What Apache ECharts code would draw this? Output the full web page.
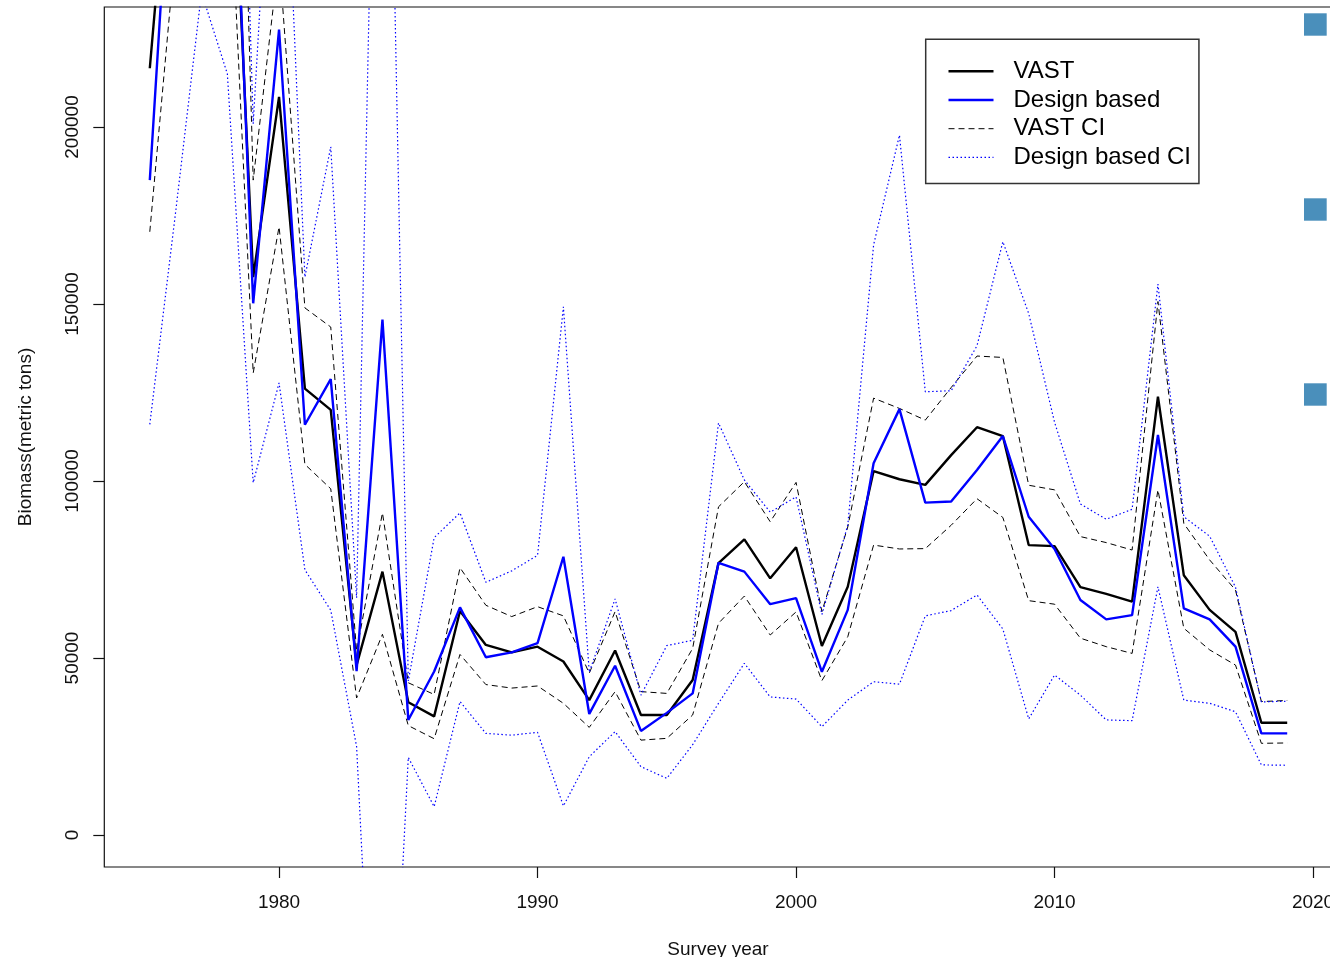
<!DOCTYPE html>
<html>
<head>
<meta charset="utf-8">
<script src="https://cdn.jsdelivr.net/npm/echarts@6/dist/echarts.min.js"></script>
<style>
  html, body { margin: 0; padding: 0; background: #ffffff; overflow: hidden; }
  #chart { width: 1330px; height: 957px; }
</style>
</head>
<body>
<div id="chart"></div>
<script>
// Survey years
const years = [1975, 1976, 1977, 1978, 1979, 1980, 1981, 1982, 1983, 1984,
               1985, 1986, 1987, 1988, 1989, 1990, 1991, 1992, 1993, 1994,
               1995, 1996, 1997, 1998, 1999, 2000, 2001, 2002, 2003, 2004,
               2005, 2006, 2007, 2008, 2009, 2010, 2011, 2012, 2013, 2014,
               2015, 2016, 2017, 2018, 2019];

// VAST model-based biomass index (metric tons)
const vast = [216600, 301000, 290000, 316000, 157600, 208500, 126100, 120100, 48000, 74400,
              37500, 33500, 63300, 53700, 51600, 53200, 49000, 38100, 52100, 33900,
              33900, 43800, 76800, 83500, 72500, 81300, 53400, 70100, 102800, 100500,
              98900, 107300, 115200, 112700, 81900, 81600, 70000, 68100, 65900, 123800,
              73400, 63600, 57400, 31700, 31700];

// Design-based biomass estimate (metric tons)
const design = [185000, 302000, 300000, 330000, 150200, 227500, 115900, 128800, 46300, 145600,
                32500, 46200, 64300, 50200, 51600, 54200, 78600, 34200, 47800, 29400,
                34500, 40000, 76900, 74400, 65200, 66900, 46100, 63600, 105000, 120300,
                93900, 94200, 103100, 112700, 89900, 80800, 66400, 60900, 62100, 113000,
                64000, 60900, 53200, 28700, 28700];

// VAST confidence interval bounds
const vastLower = [170400, 251000, 255000, 286000, 130500, 171800, 104700, 97800, 38700, 56700,
                   30900, 27200, 51000, 42500, 41500, 42100, 37200, 30400, 40500, 26800,
                   27300, 33900, 59800, 67500, 56500, 63000, 43600, 56000, 81900, 80800,
                   80900, 87500, 95000, 89700, 66200, 65200, 55600, 53200, 51300, 97500,
                   58400, 52300, 48000, 25900, 26000];
const vastUpper = [260000, 360000, 345000, 440000, 185000, 248000, 148900, 143500, 52000, 91000,
                   43000, 39700, 75500, 64900, 61700, 64500, 61900, 45700, 63100, 40500,
                   40000, 52700, 92700, 99800, 88500, 99600, 63100, 87000, 123400, 120500,
                   117200, 126400, 135300, 134900, 98800, 97500, 84300, 82600, 80500, 150700,
                   88000, 77700, 69200, 37700, 38000];

// Design-based confidence interval bounds
const designLower = [116000, 176000, 238000, 215000, 99500, 127700, 74900, 63500, 25000, -122000,
                     21900, 8000, 37700, 28700, 28200, 29000, 8200, 22100, 29200, 19300,
                     16000, 25500, 37200, 48500, 39000, 38400, 30600, 38100, 43300, 42600,
                     61900, 63400, 67800, 58200, 32800, 45200, 39500, 32500, 32300, 70100,
                     38100, 37200, 34800, 19800, 19700];
const designUpper = [254000, 428000, 362000, 444000, 200900, 327000, 157600, 194400, 67000, 413000,
                     43500, 84000, 91000, 71400, 74600, 79000, 149200, 46000, 66700, 39500,
                     53500, 55000, 116400, 100300, 91200, 95500, 62300, 87500, 166700, 197700,
                     125200, 125500, 138200, 167600, 147300, 116600, 93500, 89200, 92000, 155600,
                     89900, 84400, 70000, 37600, 37800];

// Axis tick positions
const xTicks = [1980, 1990, 2000, 2010, 2020];
const yTicks = [0, 50000, 100000, 150000, 200000];

const FONT = '"Liberation Sans", Arial, Helvetica, sans-serif';

function pairs(values) {
  return years.map((y, i) => [y, values[i]]);
}

const chart = echarts.init(document.getElementById('chart'), null, { renderer: 'canvas' });

const lineSeries = (name, values, color, dash, width) => ({
  name: name,
  type: 'line',
  data: pairs(values),
  symbol: 'none',
  showSymbol: false,
  lineStyle: { color: color, width: width, type: dash },
  itemStyle: { color: color },
  clip: true,
  silent: true
});

const option = {
  animation: false,
  backgroundColor: '#ffffff',
  grid: {
    left: 104.3,
    top: 7,
    width: 1228.4,
    height: 860,
    containLabel: false,
    outerBoundsMode: 'none',
    show: true,
    borderColor: '#111',
    borderWidth: 1.2,
    backgroundColor: 'transparent'
  },
  xAxis: {
    type: 'value',
    min: 1973.24,
    max: 2020.76,
    axisLine: { show: false, onZero: false },
    splitLine: { show: false },
    axisTick: { show: true, customValues: xTicks, length: 11, inside: false,
                lineStyle: { color: '#111', width: 1.2 } },
    axisLabel: { show: true, customValues: xTicks, margin: 26, hideOverlap: false,
                 formatter: v => String(v),
                 fontFamily: FONT, fontSize: 19, color: '#111' }
  },
  yAxis: {
    type: 'value',
    min: -9040,
    max: 233900,
    axisLine: { show: false, onZero: false },
    splitLine: { show: false },
    axisTick: { show: true, customValues: yTicks, length: 11, inside: false,
                lineStyle: { color: '#111', width: 1.2 } },
    axisLabel: { show: true, customValues: yTicks, margin: 22, rotate: 90,
                 formatter: v => String(v),
                 fontFamily: FONT, fontSize: 19, color: '#111' }
  },
  legend: {
    show: true,
    orient: 'vertical',
    left: 925.7,
    top: 39.3,
    padding: [20, 8, 14, 21.6],
    itemWidth: 45,
    itemHeight: 14,
    itemGap: 4.7,
    selectedMode: false,
    borderColor: '#333',
    borderWidth: 1.5,
    backgroundColor: '#ffffff',
    itemStyle: { opacity: 0 },
    textStyle: { fontFamily: FONT, fontSize: 24, lineHeight: 24, color: '#000',
                 padding: [0, 0, 0, 15] },
    data: [
      { name: 'VAST', lineStyle: { width: 2.4 }, itemStyle: { opacity: 0 } },
      { name: 'Design based', lineStyle: { width: 2.4 }, itemStyle: { opacity: 0 } },
      { name: 'VAST CI', lineStyle: { width: 1 }, itemStyle: { opacity: 0 } },
      { name: 'Design based CI', lineStyle: { width: 1.2 }, itemStyle: { opacity: 0 } }
    ]
  },
  series: [
    lineSeries('VAST CI', vastUpper, '#000000', [6, 4], 1),
    lineSeries('VAST CI', vastLower, '#000000', [6, 4], 1),
    lineSeries('Design based CI', designUpper, '#0000ff', [1.5, 2.5], 1.2),
    lineSeries('Design based CI', designLower, '#0000ff', [1.5, 2.5], 1.2),
    lineSeries('VAST', vast, '#000000', 'solid', 2.4),
    lineSeries('Design based', design, '#0000ff', 'solid', 2.4)
  ],
  graphic: [
    {
      type: 'text',
      x: 26, y: 437, rotation: Math.PI / 2,
      style: { text: 'Biomass(metric tons)', font: '19px ' + FONT, fill: '#111',
               textAlign: 'center', textVerticalAlign: 'middle' }
    },
    {
      type: 'text',
      x: 718, y: 950,
      style: { text: 'Survey year', font: '19px ' + FONT, fill: '#111',
               textAlign: 'center', textVerticalAlign: 'middle' }
    },
    { type: 'rect', shape: { x: 1304, y: 13.3, width: 22.7, height: 22.4 }, style: { fill: '#4a8fbb' } },
    { type: 'rect', shape: { x: 1304, y: 198.3, width: 22.7, height: 22.4 }, style: { fill: '#4a8fbb' } },
    { type: 'rect', shape: { x: 1304, y: 383.3, width: 22.7, height: 22.4 }, style: { fill: '#4a8fbb' } }
  ]
};

chart.setOption(option);
</script>
</body>
</html>
